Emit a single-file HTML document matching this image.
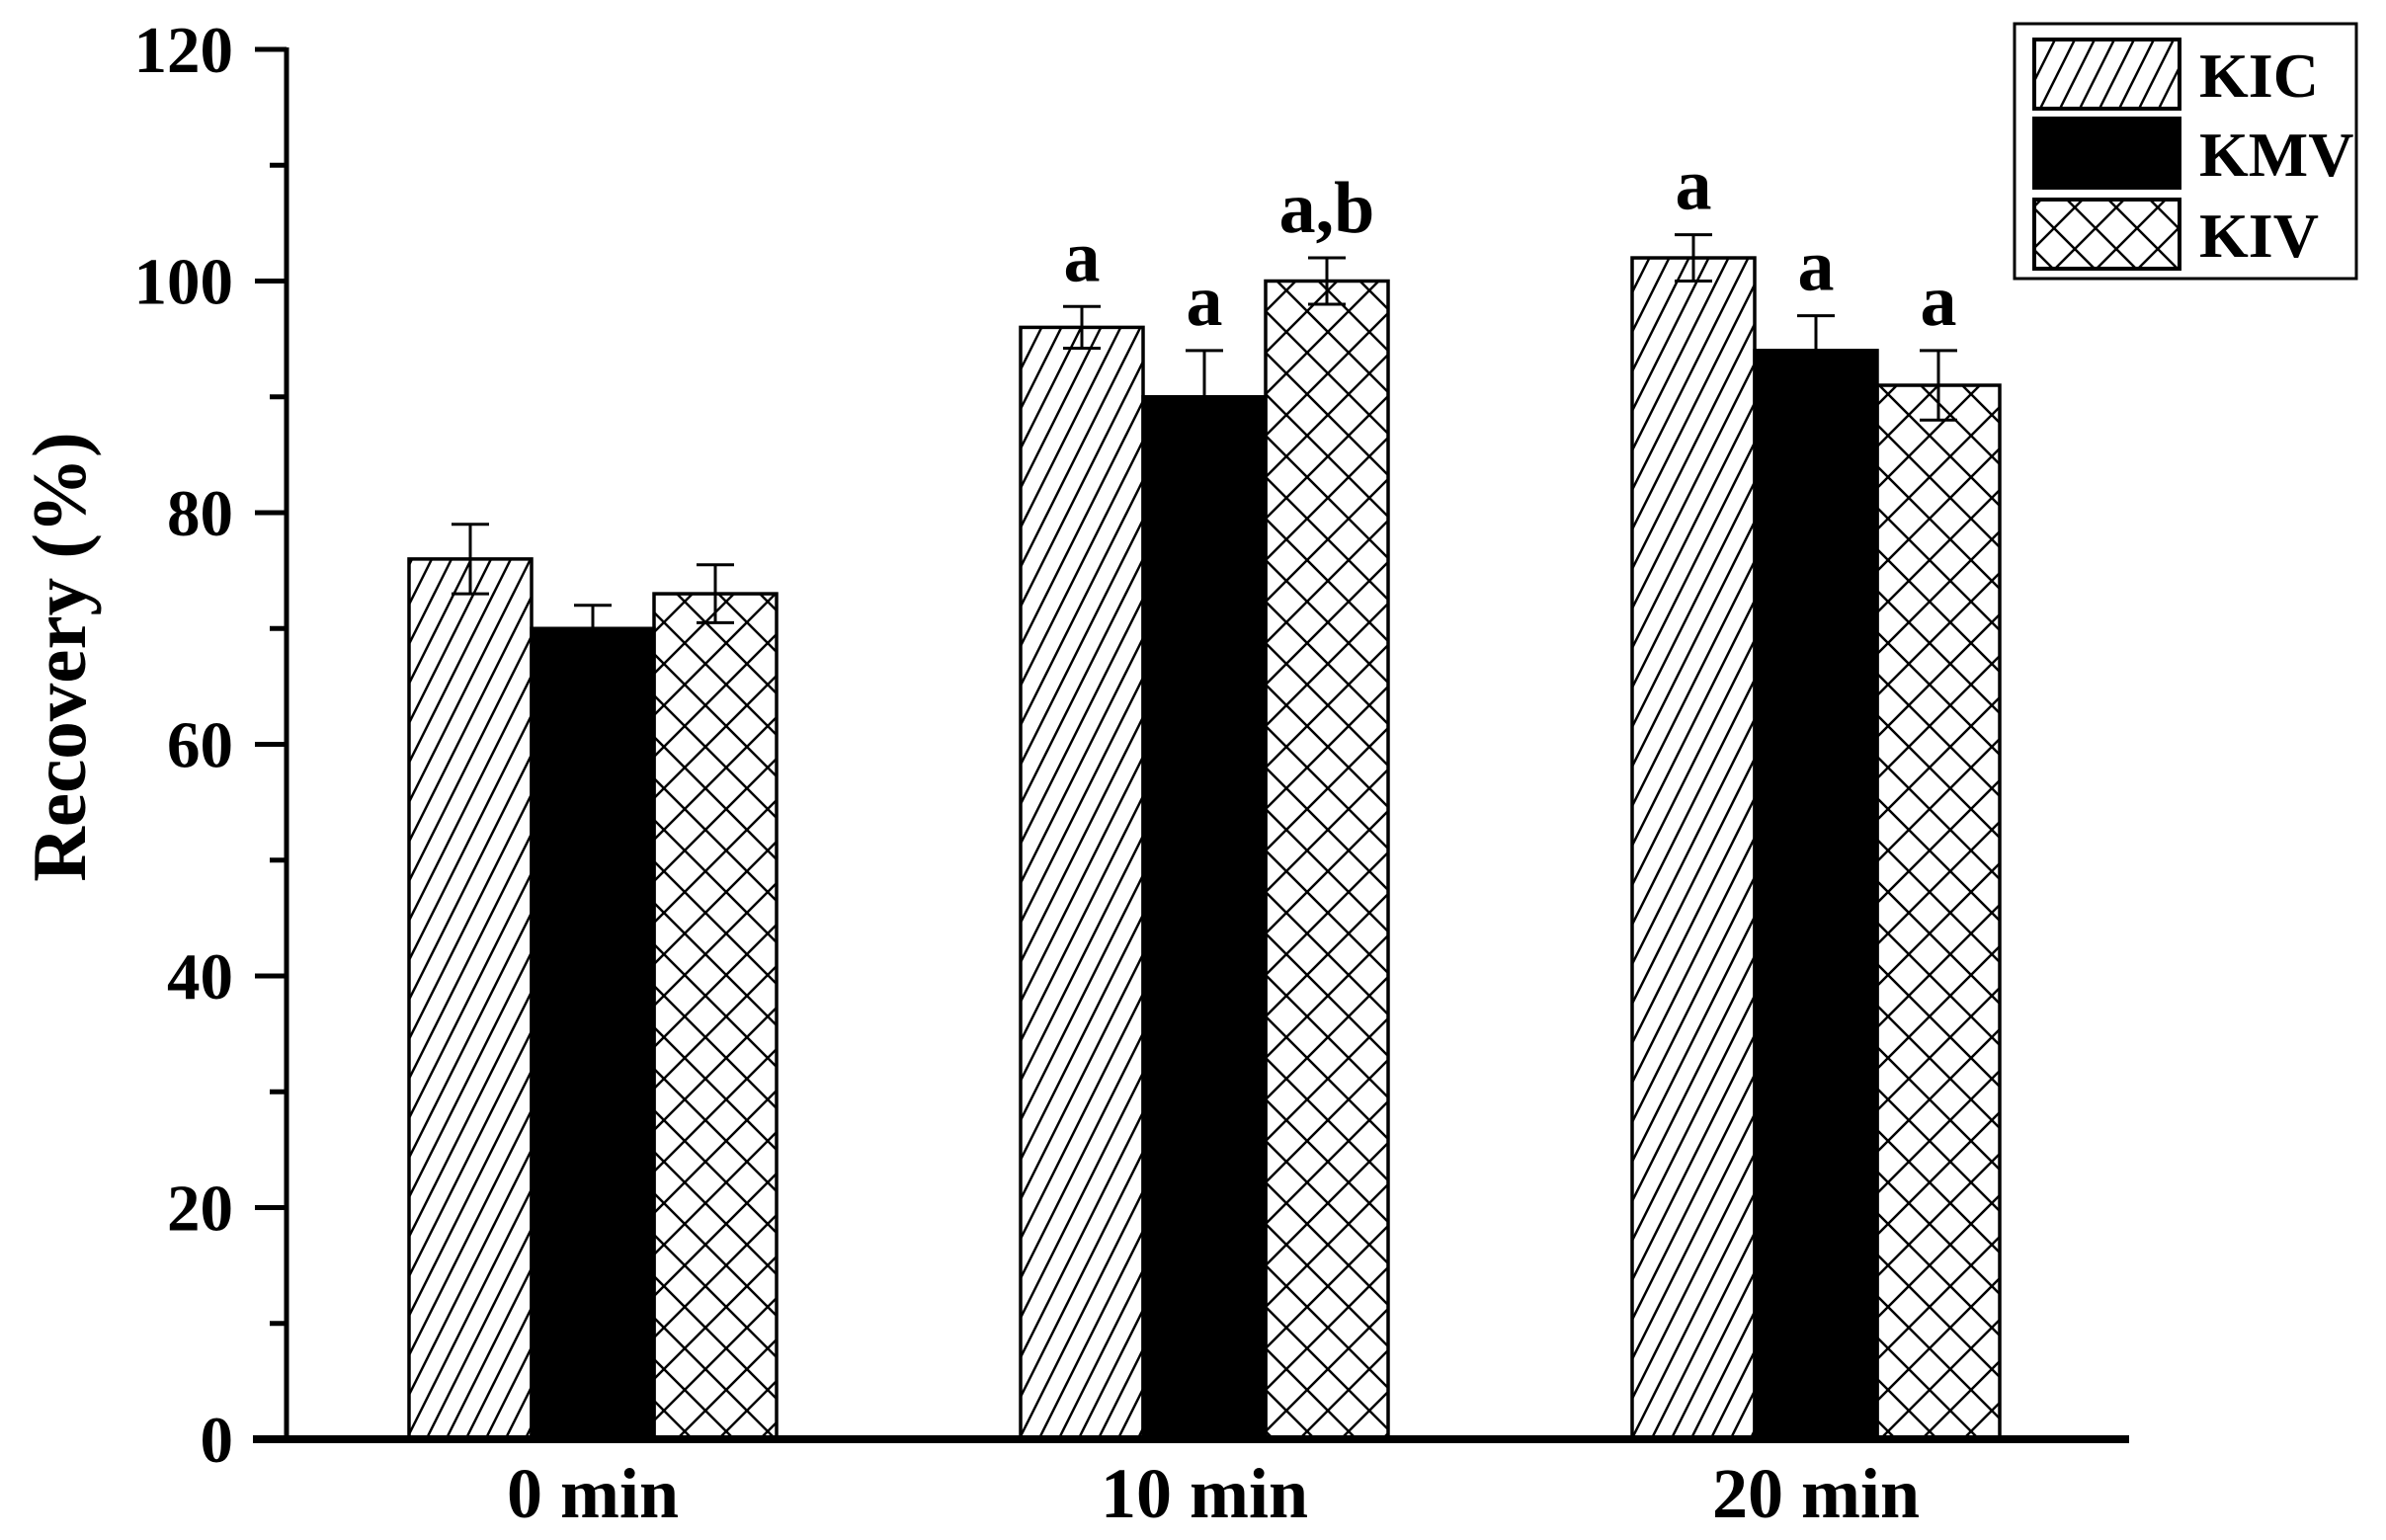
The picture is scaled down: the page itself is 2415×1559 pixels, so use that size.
<!DOCTYPE html>
<html><head><meta charset="utf-8"><style>
html,body{margin:0;padding:0;background:#fff}
svg text{font-family:"Liberation Serif",serif;font-weight:bold;fill:#000}
</style></head><body>
<svg id="chart" width="2415" height="1554" xmlns="http://www.w3.org/2000/svg">
<defs>
<pattern id="hatch" patternUnits="userSpaceOnUse" width="20" height="40">
<line x1="0" y1="40" x2="20" y2="0" stroke="#000" stroke-width="2.5"/>
<line x1="-10" y1="20" x2="10" y2="-20" stroke="#000" stroke-width="2.5"/>
<line x1="10" y1="60" x2="30" y2="20" stroke="#000" stroke-width="2.5"/>
</pattern>
<pattern id="cross" patternUnits="userSpaceOnUse" width="42" height="42">
<line x1="0" y1="0" x2="42" y2="42" stroke="#000" stroke-width="2.5"/>
<line x1="42" y1="0" x2="0" y2="42" stroke="#000" stroke-width="2.5"/>
</pattern>
</defs>
<g id="plot"></g>
</svg>
<script>
const categories = ["0 min","10 min","20 min"];
const seriesNames = ["KIC","KMV","KIV"];
const kicValues = [76,96,102];
const kmvValues = [70,90,94];
const kivValues = [73,100,91];
const kicErrors = [3,1.8,2];
const kmvErrors = [2,4,3];
const kivErrors = [2.5,2,3];
const kicLetters = ["","a","a"];
const kmvLetters = ["","a","a"];
const kivLetters = ["","a,b","a"];
const yTicks = [0,20,40,60,80,100,120];

const NS="http://www.w3.org/2000/svg";
const g=document.getElementById('plot');
const x0=290, y0=1457, yTop=50, yMax=120;
const y=v=>y0-(v/yMax)*(y0-yTop);
const groupCenter=i=>600+i*619;
const barW=124;
function el(tag,attrs,parent){const e=document.createElementNS(NS,tag);for(const k in attrs)e.setAttribute(k,attrs[k]);(parent||g).appendChild(e);return e;}

const vals=[kicValues,kmvValues,kivValues];
const errs=[kicErrors,kmvErrors,kivErrors];
const letters=[kicLetters,kmvLetters,kivLetters];
const fills=["url(#hatch)","#000","url(#cross)"];
categories.forEach((c,i)=>{
  for(let s=0;s<3;s++){
    const v=vals[s][i];
    const bx=groupCenter(i)+(s-1.5)*barW;
    const r=el('rect',{x:bx,y:y(v),width:barW,height:y0-y(v),fill:fills[s],stroke:'#000','stroke-width':3.5});
    
    
    const cx=bx+barW/2, e=errs[s][i];
    const eb=el('path',{d:`M${cx-19},${y(v+e)}H${cx+19}M${cx},${y(v+e)}V${y(v-e)}M${cx-19},${y(v-e)}H${cx+19}`,stroke:'#000','stroke-width':3,fill:'none'});
    
    
    if(letters[s][i]){
      const t=el('text',{x:cx,y:y(v+e)-26,'text-anchor':'middle','font-size':74});
      t.textContent=letters[s][i];
      
      
    }
  }
  const lab=el('text',{x:groupCenter(i),y:1536,'text-anchor':'middle','font-size':72});
  lab.textContent=c;
  
  
});
const ax=el('line',{x1:x0,y1:yTop-2,x2:x0,y2:y0,stroke:'#000','stroke-width':5});


for(let v=0;v<=yMax;v+=10){
  const major=v%20===0;
  const tk=el('line',{x1:x0-(major?32:17),y1:y(v),x2:x0,y2:y(v),stroke:'#000','stroke-width':5});
  
  
}
yTicks.forEach(v=>{
  const t=el('text',{x:236,y:y(v)+23,'text-anchor':'end','font-size':67});
  t.textContent=v;
  
  
});
const xa=el('line',{x1:256,y1:y0,x2:2155,y2:y0,stroke:'#000','stroke-width':8});


const yt=el('text',{x:0,y:0,'text-anchor':'middle','font-size':77,transform:'translate(86,665) rotate(-90)'});
yt.textContent='Recovery (%)';


const lg=el('rect',{x:2039,y:24,width:346,height:258,fill:'#fff',stroke:'#000','stroke-width':3});


const swY=[40,120,202];
seriesNames.forEach((n,s)=>{
  const sw=el('rect',{x:2059,y:swY[s],width:147,height:70,fill:fills[s],stroke:'#000','stroke-width':4});
  
  
  const t=el('text',{x:2226,y:swY[s]+58,'font-size':64});
  t.textContent=n;
  
  
});
</script>
</body></html>
